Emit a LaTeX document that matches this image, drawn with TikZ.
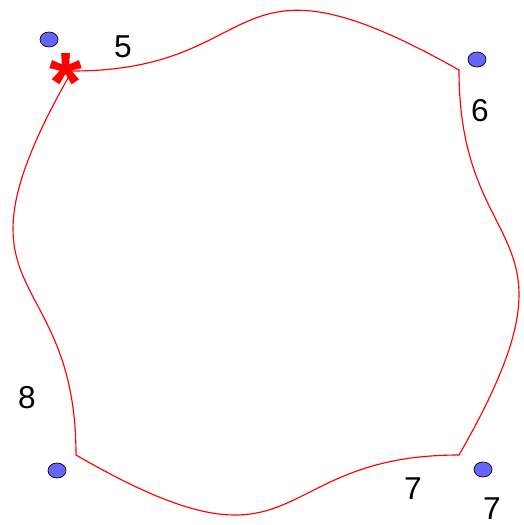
\documentclass[tikz,border=0pt]{standalone}
\usepackage{fontspec}
\setmainfont{Liberation Sans}
\usetikzlibrary{shapes.geometric}
\definecolor{dotblue}{RGB}{102,102,255}

\begin{document}
\begin{tikzpicture}[
  x=0.02cm, y=-0.02cm,
  edge/.style={draw=red, line width=0.65pt},
  dot/.style={ellipse, draw=black, fill=dotblue, line width=0.4pt, inner sep=0pt,
              minimum width=0.36cm, minimum height=0.3cm},
  num/.style={font=\fontsize{18}{20}\selectfont, inner sep=0pt},
  astr/.style={text=red, font=\fontsize{48}{48}\selectfont\bfseries, inner sep=0pt, anchor=base},
]
\useasboundingbox (0,0) rectangle (524,525);
% corners of the curved patch
\coordinate (tl) at (72,71);
\coordinate (tr) at (459,70);
\coordinate (br) at (459,455);
\coordinate (bl) at (76,455);

\draw[edge] (tl) .. controls +(200,0) and +(-239,-135) .. (tr)
  .. controls +(0,198) and +(135,-235) .. (br)
  .. controls +(-197,0) and +(233,135) .. (bl)
  .. controls +(0,-198) and +(-135,235) .. (tl);

\node[astr] (ast) at (66,111) {*};

% points
\node[dot] (d1) at (49,39.5) {};
\node[dot] (d2) at (477,59.5) {};
\node[dot] (d3) at (57,470.5) {};
\node[dot] (d4) at (483,469.5) {};

% labels
\node[num] (l5)  at (123,46.5) {5};
\node[num] (l6)  at (480,111)  {6};
\node[num] (l8)  at (27,398)   {8};
\node[num] (l7a) at (413,488.5) {7};
\node[num] (l7b) at (492,509)  {7};
\end{tikzpicture}
\end{document}
